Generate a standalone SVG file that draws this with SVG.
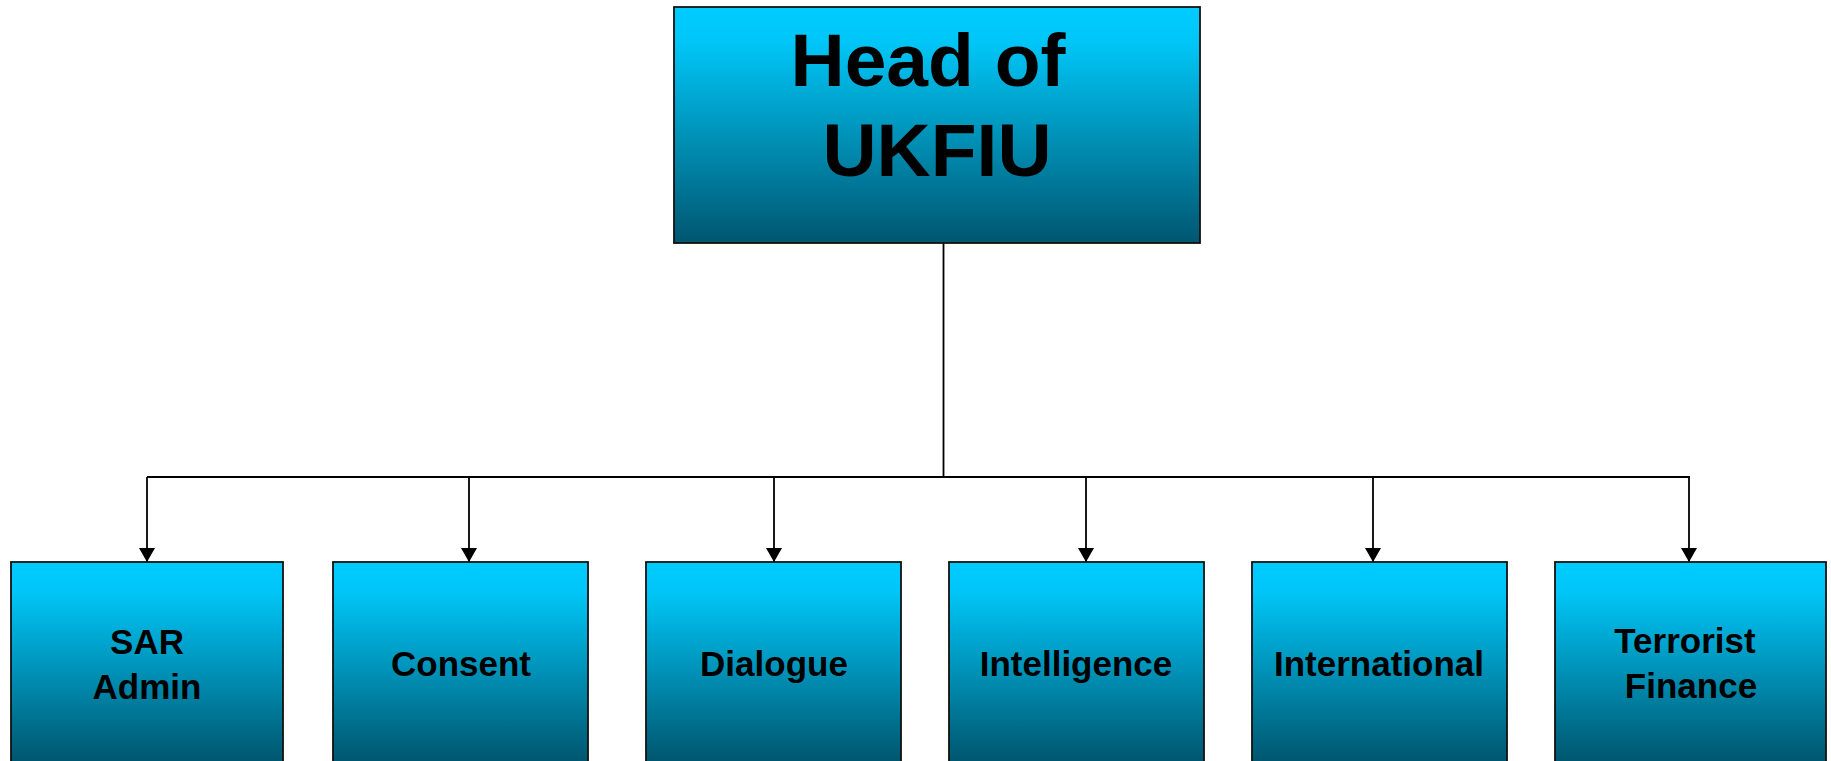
<svg xmlns="http://www.w3.org/2000/svg" width="1831" height="761" viewBox="0 0 1831 761">
<style>
.box{stroke:#111;stroke-width:1.8}
.top{fill:url(#gTop)}
.sub{fill:url(#gSub)}
.conn{fill:none;stroke:#000;stroke-width:1.8}
.t{font-family:"Liberation Sans",Arial,sans-serif;font-weight:bold;fill:#000;text-anchor:middle}
.big{font-size:75px}
.small{font-size:35px}
</style>
<defs>
<linearGradient id="gTop" x1="0" y1="0" x2="0" y2="1">
<stop offset="0" stop-color="#00CCFF"/>
<stop offset="0.15" stop-color="#00C6F7"/>
<stop offset="1" stop-color="#005670"/>
</linearGradient>
<linearGradient id="gSub" gradientUnits="userSpaceOnUse" x1="0" y1="562" x2="0" y2="761">
<stop offset="0" stop-color="#00CCFF"/>
<stop offset="0.15" stop-color="#00C6F7"/>
<stop offset="1" stop-color="#00566F"/>
</linearGradient>
<marker id="arr" viewBox="0 0 14 16" refX="14" refY="8" markerWidth="14" markerHeight="16" markerUnits="userSpaceOnUse" orient="auto">
<path d="M0,0 L14,8 L0,16 Z" fill="#000"/>
</marker>
</defs>
<g id="connectors">
<path class="conn" d="M943.5,243 V477"/>
<path class="conn" d="M147,477 H1690"/>
<path class="conn" d="M147,477 V562" marker-end="url(#arr)"/>
<path class="conn" d="M469,477 V562" marker-end="url(#arr)"/>
<path class="conn" d="M774,477 V562" marker-end="url(#arr)"/>
<path class="conn" d="M1086,477 V562" marker-end="url(#arr)"/>
<path class="conn" d="M1373,477 V562" marker-end="url(#arr)"/>
<path class="conn" d="M1689,477 V562" marker-end="url(#arr)"/>
</g>
<g id="head">
<rect class="box top" x="674" y="7" width="526" height="236"/>
<text class="t big" x="928" y="86">Head of</text>
<text class="t big" x="937" y="176">UKFIU</text>
</g>
<g id="sar-admin">
<rect class="box sub" x="11" y="562" width="272" height="210"/>
<text class="t small" x="147" y="654">SAR</text>
<text class="t small" x="147" y="699">Admin</text>
</g>
<g id="consent">
<rect class="box sub" x="333" y="562" width="255" height="210"/>
<text class="t small" x="461" y="676">Consent</text>
</g>
<g id="dialogue">
<rect class="box sub" x="646" y="562" width="255" height="210"/>
<text class="t small" x="774" y="676">Dialogue</text>
</g>
<g id="intelligence">
<rect class="box sub" x="949" y="562" width="255" height="210"/>
<text class="t small" x="1076" y="676">Intelligence</text>
</g>
<g id="international">
<rect class="box sub" x="1252" y="562" width="255" height="210"/>
<text class="t small" x="1379" y="676">International</text>
</g>
<g id="terrorist-finance">
<rect class="box sub" x="1555" y="562" width="271" height="210"/>
<text class="t small" x="1685" y="653">Terrorist</text>
<text class="t small" x="1691" y="698">Finance</text>
</g>
</svg>
